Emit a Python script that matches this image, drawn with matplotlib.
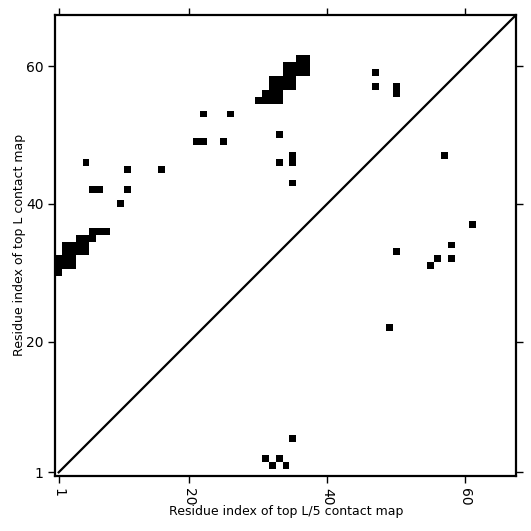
import numpy as np
import matplotlib
matplotlib.use("Agg")
import matplotlib.pyplot as plt

L = 67  # sequence length

# top L predicted contacts (upper triangle): (residue i, residue j)
top_L_i = [1, 1, 2, 3, 1, 2, 3, 2, 3, 4, 5, 2, 3, 4, 5, 4, 5, 6, 6, 7, 8,
           10, 6, 7, 11, 11, 16, 5, 21, 22, 25, 22, 26, 33, 33, 35, 35, 35,
           47, 47, 50, 50,
           36, 37, 34, 35, 36, 37, 34, 35, 36, 37, 32, 33, 34, 35, 32, 33, 34, 35,
           31, 32, 33, 30, 31, 32, 33]
top_L_j = [30, 31, 31, 31, 32, 32, 32, 33, 33, 33, 33, 34, 34, 34, 34, 35, 35, 35, 36, 36, 36,
           40, 42, 42, 42, 45, 45, 46, 49, 49, 49, 53, 53, 50, 46, 46, 47, 43,
           59, 57, 57, 56,
           61, 61, 60, 60, 60, 60, 59, 59, 59, 59, 58, 58, 58, 58, 57, 57, 57, 57,
           56, 56, 56, 55, 55, 55, 55]

# top L/5 contacts (lower triangle)
top_L5_i = [3, 2, 3, 2, 6, 22, 33, 31, 32, 32, 34, 37, 47]
top_L5_j = [31, 32, 33, 34, 35, 49, 50, 55, 56, 58, 58, 61, 57]

tick_pos = [1, 20, 40, 60]

cmap = np.zeros((L, L))
for i, j in zip(top_L_i, top_L_j):
    cmap[j - 1, i - 1] = 1   # row = y, col = x
for i, j in zip(top_L5_i, top_L5_j):
    cmap[i - 1, j - 1] = 1

fig = plt.figure(figsize=(5.31, 5.31), dpi=100)
ax = fig.add_axes([0.1040, 0.1040, 0.8682, 0.8682])
ax.imshow(cmap, cmap='binary', interpolation='nearest', origin='lower',
          extent=(0.5, L + 0.5, 0.5, L + 0.5), aspect='auto', vmin=0, vmax=1)

# diagonal separating the two maps
ax.plot([1, L + 0.5], [1, L + 0.5], color='black', lw=1.6)
ax.set_xlim(0.5, L + 0.5)
ax.set_ylim(0.5, L + 0.5)

ax.set_xticks(tick_pos)
ax.set_yticks(tick_pos)
ax.set_xticklabels([str(t) for t in tick_pos], rotation=-90)
ax.set_yticklabels([str(t) for t in tick_pos])
ax.tick_params(direction='out', length=5, width=1, top=True, right=True)
for s in ax.spines.values():
    s.set_linewidth(1.6)

ax.set_xlabel('Residue index of top L/5 contact map', fontsize=9, labelpad=0)
ax.set_ylabel('Residue index of top L contact map', fontsize=9, labelpad=0)

plt.savefig('out.png', dpi=100)
